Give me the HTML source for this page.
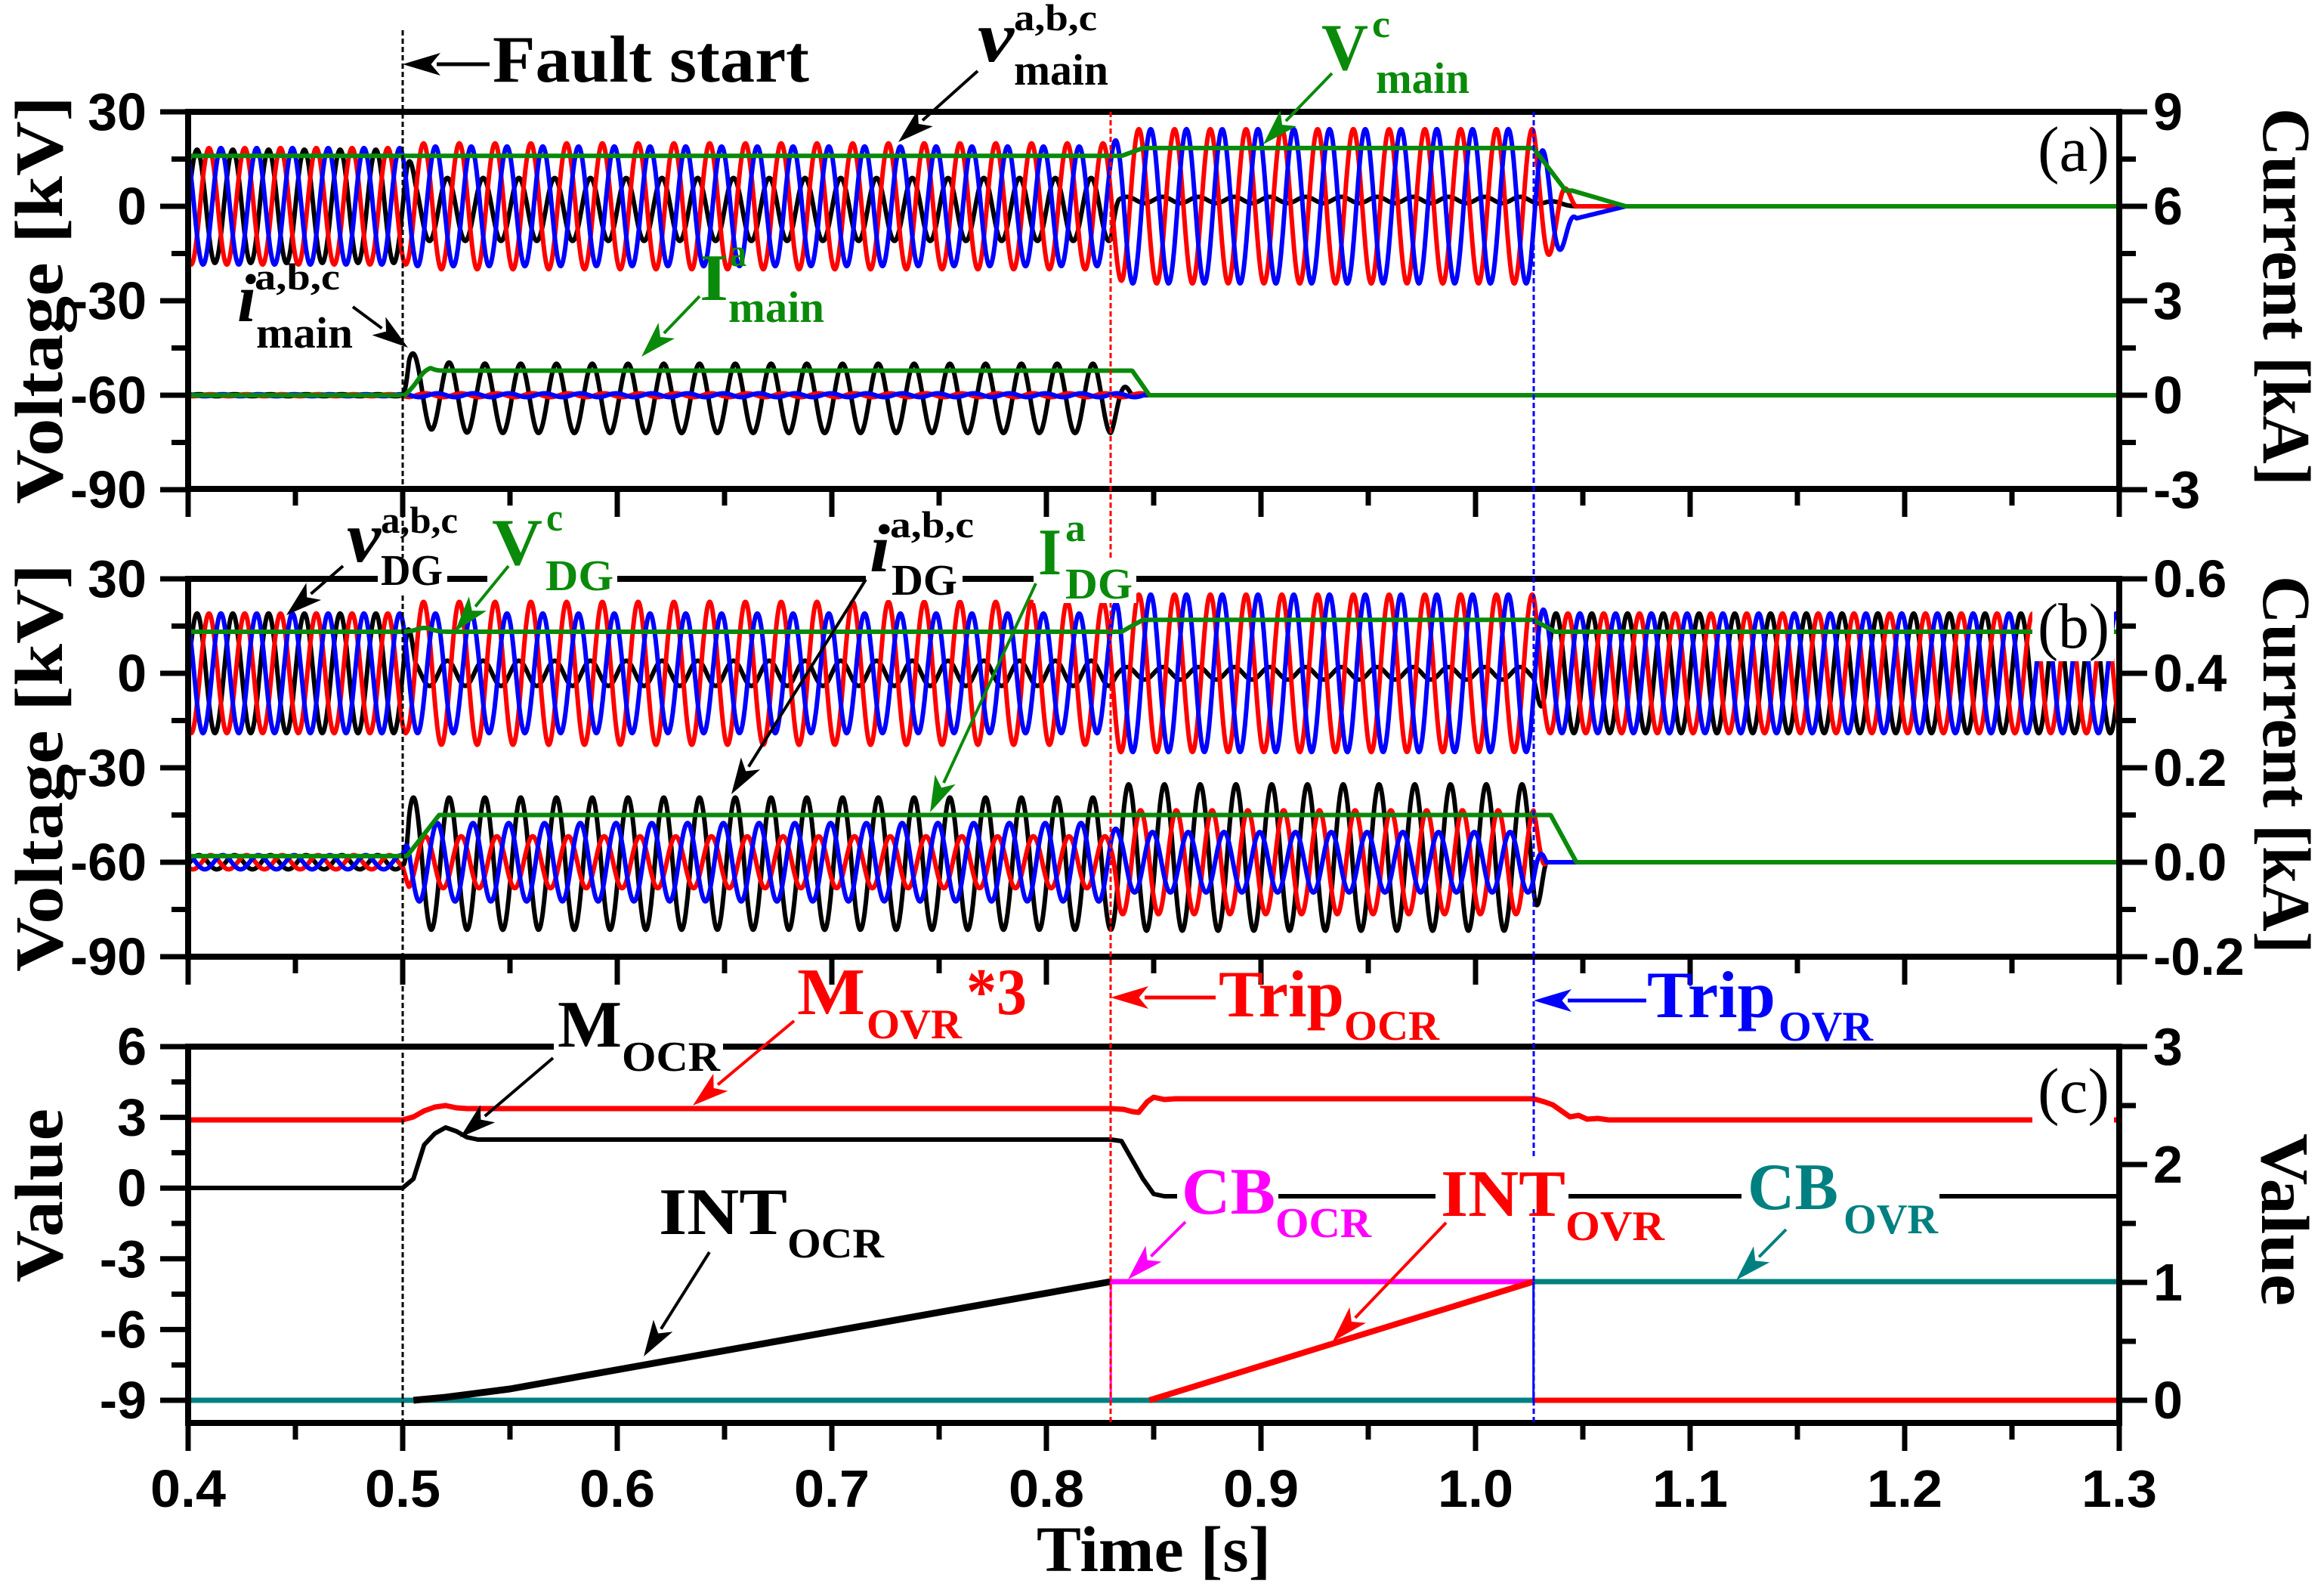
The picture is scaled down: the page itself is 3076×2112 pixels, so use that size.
<!DOCTYPE html>
<html><head><meta charset="utf-8"><style>
html,body{margin:0;padding:0;background:#fff;}
svg{display:block;}
.n{font-family:"Liberation Sans",Arial,sans-serif;font-weight:bold;font-size:70px;fill:#000;}
.s{font-family:"Liberation Serif","Times New Roman",serif;font-weight:bold;}
</style></head><body>
<svg id="c" xmlns="http://www.w3.org/2000/svg" width="3076" height="2112" viewBox="0 0 3076 2112">
<rect width="3076" height="2112" fill="#fff"/>
<g id="data"></g>
<g id="axes"></g>
<g id="over"></g>
<g id="labels" class="s">
<rect x="500" y="738" width="92" height="50" fill="#fff"/>
<rect x="645" y="738" width="172" height="50" fill="#fff"/>
<rect x="1146" y="738" width="128" height="56" fill="#fff"/>
<rect x="1368" y="738" width="136" height="60" fill="#fff"/>
<rect x="733" y="1376" width="224" height="46" fill="#fff"/>
<rect x="1558" y="1530" width="134" height="68" fill="#fff"/>
<rect x="1900" y="1530" width="176" height="68" fill="#fff"/>
<rect x="2305" y="1525" width="262" height="68" fill="#fff"/>
<rect x="2690" y="160" width="108" height="88" fill="#fff"/>
<rect x="2690" y="787" width="108" height="88" fill="#fff"/>
<rect x="2690" y="1400" width="108" height="88" fill="#fff"/>

<text x="652" y="108" font-size="88" textLength="419" lengthAdjust="spacingAndGlyphs">Fault start</text>
<text x="1294" y="81" font-size="95" font-style="italic" textLength="48" lengthAdjust="spacingAndGlyphs">v</text>
<text x="1342" y="40" font-size="50" textLength="110" lengthAdjust="spacingAndGlyphs">a,b,c</text>
<text x="1342" y="112" font-size="58" textLength="125" lengthAdjust="spacingAndGlyphs">main</text>
<g fill="#0a8a0a">
<text x="1749" y="92" font-size="88" textLength="62" lengthAdjust="spacingAndGlyphs">V</text>
<text x="1816" y="49" font-size="52" textLength="24" lengthAdjust="spacingAndGlyphs">c</text>
<text x="1821" y="123" font-size="58" textLength="124" lengthAdjust="spacingAndGlyphs">main</text>
</g>
<text x="314" y="425" font-size="90" font-style="italic" textLength="25" lengthAdjust="spacingAndGlyphs">i</text>
<text x="337" y="383" font-size="50" textLength="113" lengthAdjust="spacingAndGlyphs">a,b,c</text>
<text x="339" y="460" font-size="58" textLength="128" lengthAdjust="spacingAndGlyphs">main</text>
<g fill="#0a8a0a">
<text x="926" y="397" font-size="88" textLength="38" lengthAdjust="spacingAndGlyphs">I</text>
<text x="966" y="352" font-size="52" textLength="22" lengthAdjust="spacingAndGlyphs">a</text>
<text x="964" y="426" font-size="58" textLength="127" lengthAdjust="spacingAndGlyphs">main</text>
</g>
<text x="2697" y="226" font-size="85" font-weight="normal" textLength="95" lengthAdjust="spacingAndGlyphs">(a)</text>

<text x="459" y="743" font-size="95" font-style="italic" textLength="45" lengthAdjust="spacingAndGlyphs">v</text>
<text x="504" y="705" font-size="50" textLength="102" lengthAdjust="spacingAndGlyphs">a,b,c</text>
<text x="504" y="774" font-size="58" textLength="82" lengthAdjust="spacingAndGlyphs">DG</text>
<g fill="#0a8a0a">
<text x="651" y="747" font-size="88" textLength="67" lengthAdjust="spacingAndGlyphs">V</text>
<text x="723" y="702" font-size="52" textLength="22" lengthAdjust="spacingAndGlyphs">c</text>
<text x="722" y="781" font-size="58" textLength="90" lengthAdjust="spacingAndGlyphs">DG</text>
</g>
<text x="1151" y="756" font-size="90" font-style="italic" textLength="27" lengthAdjust="spacingAndGlyphs">i</text>
<text x="1178" y="711" font-size="50" textLength="111" lengthAdjust="spacingAndGlyphs">a,b,c</text>
<text x="1180" y="787" font-size="58" textLength="87" lengthAdjust="spacingAndGlyphs">DG</text>
<g fill="#0a8a0a">
<text x="1374" y="760" font-size="88" textLength="31" lengthAdjust="spacingAndGlyphs">I</text>
<text x="1410" y="716" font-size="52" textLength="27" lengthAdjust="spacingAndGlyphs">a</text>
<text x="1410" y="792" font-size="58" textLength="89" lengthAdjust="spacingAndGlyphs">DG</text>
</g>
<text x="2697" y="857" font-size="85" font-weight="normal" textLength="95" lengthAdjust="spacingAndGlyphs">(b)</text>

<text x="738" y="1385" font-size="88" textLength="85" lengthAdjust="spacingAndGlyphs">M</text>
<text x="823" y="1417" font-size="56" textLength="130" lengthAdjust="spacingAndGlyphs">OCR</text>
<g fill="#ff0000">
<text x="1055" y="1342" font-size="88" textLength="90" lengthAdjust="spacingAndGlyphs">M</text>
<text x="1147" y="1374" font-size="56" textLength="126" lengthAdjust="spacingAndGlyphs">OVR</text>
<text x="1279" y="1342" font-size="88" textLength="80" lengthAdjust="spacingAndGlyphs">*3</text>
<text x="1613" y="1345" font-size="88" textLength="166" lengthAdjust="spacingAndGlyphs">Trip</text>
<text x="1779" y="1376" font-size="56" textLength="126" lengthAdjust="spacingAndGlyphs">OCR</text>
<text x="1907" y="1609" font-size="88" textLength="165" lengthAdjust="spacingAndGlyphs">INT</text>
<text x="2072" y="1641" font-size="56" textLength="131" lengthAdjust="spacingAndGlyphs">OVR</text>
</g>
<g fill="#0000ff">
<text x="2180" y="1346" font-size="88" textLength="170" lengthAdjust="spacingAndGlyphs">Trip</text>
<text x="2354" y="1377" font-size="56" textLength="125" lengthAdjust="spacingAndGlyphs">OVR</text>
</g>
<text x="872" y="1633" font-size="88" textLength="170" lengthAdjust="spacingAndGlyphs">INT</text>
<text x="1042" y="1664" font-size="56" textLength="128" lengthAdjust="spacingAndGlyphs">OCR</text>
<g fill="#ff00ff">
<text x="1564" y="1606" font-size="88" textLength="124" lengthAdjust="spacingAndGlyphs">CB</text>
<text x="1688" y="1637" font-size="56" textLength="127" lengthAdjust="spacingAndGlyphs">OCR</text>
</g>
<g fill="#008080">
<text x="2313" y="1600" font-size="88" textLength="120" lengthAdjust="spacingAndGlyphs">CB</text>
<text x="2440" y="1632" font-size="56" textLength="125" lengthAdjust="spacingAndGlyphs">OVR</text>
</g>
<text x="2697" y="1472" font-size="85" font-weight="normal" textLength="95" lengthAdjust="spacingAndGlyphs">(c)</text>

<text transform="translate(82,397) rotate(-90)" font-size="90" text-anchor="middle" textLength="540" lengthAdjust="spacingAndGlyphs">Voltage [kV]</text>
<text transform="translate(82,1016) rotate(-90)" font-size="90" text-anchor="middle" textLength="540" lengthAdjust="spacingAndGlyphs">Voltage [kV]</text>
<text transform="translate(82,1582) rotate(-90)" font-size="90" text-anchor="middle" textLength="230" lengthAdjust="spacingAndGlyphs">Value</text>
<text transform="translate(2996,393) rotate(90)" font-size="90" text-anchor="middle" textLength="500" lengthAdjust="spacingAndGlyphs">Current [kA]</text>
<text transform="translate(2996,1012) rotate(90)" font-size="90" text-anchor="middle" textLength="500" lengthAdjust="spacingAndGlyphs">Current [kA]</text>
<text transform="translate(2994,1614) rotate(90)" font-size="90" text-anchor="middle" textLength="228" lengthAdjust="spacingAndGlyphs">Value</text>
<text x="1527" y="2079" font-size="86" text-anchor="middle" textLength="310" lengthAdjust="spacingAndGlyphs">Time [s]</text>
</g>
<g id="arrows"></g>
</svg>
<script>
(function(){
var NS="http://www.w3.org/2000/svg";
function el(p,n,a){var e=document.createElementNS(NS,n);for(var k in a)e.setAttribute(k,a[k]);p.appendChild(e);return e;}
var data=document.getElementById('data'),axes=document.getElementById('axes'),over=document.getElementById('over'),arr=document.getElementById('arrows');
function X(t){return 249+(t-0.4)*2840;}
var W=2*Math.PI*60, P=2*Math.PI/3;
function S(t,a,b){return t<=a?0:t>=b?1:(t-a)/(b-a);}
function pw(t,v,ts,rs){var y=v[0];for(var i=0;i<ts.length;i++)y+=(v[i+1]-v[i])*S(t,ts[i],ts[i]+rs[i]);return y;}
function series(f,Y,col,w,t0,t1){t0=t0||0.4;t1=t1||1.3;var d='';for(var t=t0;t<=t1+1e-9;t+=0.0003){d+=(d?'L':'M')+X(t).toFixed(1)+','+Y(f(t)).toFixed(1);}
el(data,'path',{d:d,fill:'none',stroke:col,'stroke-width':w,'stroke-linejoin':'round'});}
function poly(pts,Y,col,w){var d='';pts.forEach(function(p){d+=(d?'L':'M')+X(p[0]).toFixed(1)+','+p[1];});el(data,'path',{d:d,fill:'none',stroke:col,'stroke-width':w,'stroke-linejoin':'round'});}
var G='#0a8a0a',T1=0.502,T2=0.83,T3=1.027,LW=6;
var Yav=function(v){return 273-v*125/30;}, Yai=function(v){return 523-v*125/3;};
var ph=Math.PI/2-W*0.505;
series(function(t){return pw(t,[18,10,1,0],[T1,T2,T3],[.004,.004,.02])*Math.sin(W*t)+pw(t,[0,-1,2,0],[T1,T2,T3],[.004,.004,.02]);},Yav,'#000',LW);
series(function(t){return pw(t,[18.5,20,24.5,0],[T1,T2,T3],[.004,.006,.02])*Math.sin(W*t-P);},Yav,'#f00',LW);
series(function(t){return pw(t,[18.5,19,24.5,0],[T1,T2,T3],[.004,.006,.02])*Math.sin(W*t+P)-5*S(t,1.03,1.037)*(1-S(t,1.04,1.07));},Yav,'#00f',LW);
series(function(t){return pw(t,[16,16,18.5,5,0],[T1,0.835,T3,1.045],[.004,.01,.015,.025]);},Yav,G,6);
series(function(t){var s=t>0.5?0.6*Math.exp(-(t-0.5)/0.008)*S(t,0.5,0.503):0;return pw(t,[0.03,1.1,0],[0.5,T2],[0.003,0.01])*Math.sin(W*t+ph)+pw(t,[0,-0.1,0],[0.5,T2],[.003,.01])+s;},Yai,'#000',LW,0.4,1.3);
series(function(t){return pw(t,[0.03,0.06,0],[0.5,0.845],[0.003,0.003])*Math.sin(W*t+ph-P);},Yai,'#f00',LW);
series(function(t){return pw(t,[0.03,0.06,0],[0.5,0.845],[0.003,0.003])*Math.sin(W*t+ph+P);},Yai,'#00f',LW);
series(function(t){return pw(t,[0,0.78,0],[0.501,0.84],[0.012,0.008])+0.15*Math.exp(-Math.pow((t-0.51)/0.004,2));},Yai,G,6);
var Ybv=function(v){return 891-v*125/30;}, Ybi=function(v){return 1141-v*625;};
series(function(t){return pw(t,[19,4,2,19],[T1,T2,T3],[.004,.004,.006])*Math.sin(W*t);},Ybv,'#000',LW);
series(function(t){return pw(t,[19,22.7,25,19],[T1,T2,T3],[.004,.004,.006])*Math.sin(W*t-P);},Ybv,'#f00',LW);
series(function(t){return pw(t,[19,19,25,19],[T1,T2,T3],[.004,.004,.006])*Math.sin(W*t+P);},Ybv,'#00f',LW);
series(function(t){return pw(t,[13.2,13.2,17,13.2],[T1,0.835,T3],[.004,.01,.01])+1.2*Math.exp(-Math.pow((t-0.51)/0.005,2));},Ybv,G,6);
series(function(t){return pw(t,[0.015,0.14,0.155,0],[0.5,T2,T3],[.003,.004,.006])*Math.sin(W*t+ph)+pw(t,[0,-0.003,0.01,0],[0.5,T2,T3],[.003,.004,.006]);},Ybi,'#000',LW);
series(function(t){return pw(t,[0.015,0.055,0.11,0],[0.5,T2,T3],[.003,.004,.006])*Math.sin(W*t+ph-P);},Ybi,'#f00',LW);
series(function(t){return pw(t,[0.015,0.083,0.064,0],[0.5,T2,T3],[.003,.004,.006])*Math.sin(W*t+ph+P);},Ybi,'#00f',LW);
series(function(t){return pw(t,[0.013,0.1,0],[0.502,1.035],[0.015,0.012]);},Ybi,G,6);
poly([[0.4,1853],[1.027,1853]],null,'#008080',7);
poly([[1.027,1696],[1.3,1696]],null,'#008080',7);
poly([[0.4,1482],[0.5,1482],[0.505,1478],[0.51,1470],[0.515,1465],[0.52,1463],[0.525,1466],[0.53,1467],[0.83,1467],[0.836,1468],[0.84,1471],[0.843,1472],[0.847,1458],[0.85,1452],[0.855,1455],[0.86,1454],[1.027,1454],[1.032,1458],[1.036,1462],[1.04,1470],[1.044,1478],[1.048,1476],[1.052,1481],[1.057,1480],[1.062,1482],[1.3,1482]],null,'#f00',7);
poly([[0.4,1572],[0.5,1572],[0.505,1560],[0.51,1515],[0.515,1500],[0.52,1492],[0.525,1497],[0.53,1505],[0.535,1508],[0.83,1508],[0.835,1510],[0.838,1525],[0.842,1545],[0.845,1560],[0.85,1580],[0.855,1583],[1.3,1583]],null,'#000',6);
poly([[0.505,1853],[0.52,1849],[0.55,1838],[0.83,1696]],null,'#000',9);
poly([[0.83,1853],[0.83,1696]],null,'#ff00ff',3);
poly([[0.83,1696],[1.027,1696]],null,'#ff00ff',7);
poly([[0.848,1853],[1.027,1696]],null,'#f00',8);
poly([[1.027,1853],[1.3,1853]],null,'#f00',7);
poly([[1.027,1853],[1.027,1696]],null,'#00f',3);
el(over,'line',{x1:533,y1:40,x2:533,y2:1883,stroke:'#000','stroke-width':3,'stroke-dasharray':'7,4'});
el(over,'line',{x1:1470,y1:148,x2:1470,y2:1883,stroke:'#f00','stroke-width':3,'stroke-dasharray':'7,4'});
el(over,'line',{x1:2030,y1:148,x2:2030,y2:1883,stroke:'#00f','stroke-width':3,'stroke-dasharray':'7,4'});
var SW=8;
function frame(top,bot){el(axes,'rect',{x:249,y:top,width:2556,height:bot-top,fill:'none',stroke:'#000','stroke-width':SW});
for(var i=0;i<=18;i++){var x=249+i*142;var L=(i%2==0)?37:22;el(axes,'line',{x1:x,y1:bot,x2:x,y2:bot+L,stroke:'#000','stroke-width':7});}}
function yt(x,dir,ys,minors){ys.forEach(function(y){el(axes,'line',{x1:x,y1:y,x2:x+dir*37,y2:y,stroke:'#000','stroke-width':7});});
minors.forEach(function(y){el(axes,'line',{x1:x,y1:y,x2:x+dir*22,y2:y,stroke:'#000','stroke-width':7});});}
function txt(x,y,s,anchor){var e=el(axes,'text',{x:x,y:y,'text-anchor':anchor,'class':'n'});e.textContent=s;}
frame(148,647);frame(766,1266);frame(1385,1883);
yt(249,-1,[148,273,398,523,648],[210.5,335.5,460.5,585.5]);
['30','0','-30','-60','-90'].forEach(function(s,i){txt(194,148+i*125+24,s,'end');});
yt(2805,1,[148,273,398,523,648],[210.5,335.5,460.5,585.5]);
['9','6','3','0','-3'].forEach(function(s,i){txt(2850,148+i*125+24,s,'start');});
yt(249,-1,[766,891,1016,1141,1266],[828.5,953.5,1078.5,1203.5]);
['30','0','-30','-60','-90'].forEach(function(s,i){txt(194,766+i*125+24,s,'end');});
yt(2805,1,[766,891,1016,1141,1266],[828.5,953.5,1078.5,1203.5]);
['0.6','0.4','0.2','0.0','-0.2'].forEach(function(s,i){txt(2850,766+i*125+24,s,'start');});
var cl=[1385,1478.6,1572.2,1665.8,1759.4,1853];
yt(249,-1,cl,[1431.8,1525.4,1619,1712.6,1806.2]);
['6','3','0','-3','-6','-9'].forEach(function(s,i){txt(194,cl[i]+24,s,'end');});
var cr=[1385,1541,1697,1853];
yt(2805,1,cr,[1463,1619,1775]);
['3','2','1','0'].forEach(function(s,i){txt(2850,cr[i]+24,s,'start');});
['0.4','0.5','0.6','0.7','0.8','0.9','1.0','1.1','1.2','1.3'].forEach(function(s,i){var e=el(axes,'text',{x:249+i*284,y:1994,'text-anchor':'middle','class':'n','font-size':'72',textLength:'100',lengthAdjust:'spacingAndGlyphs'});e.textContent=s;});
function arrow(x1,y1,x2,y2,col,w,hl,hw){var dx=x2-x1,dy=y2-y1,L=Math.sqrt(dx*dx+dy*dy),ux=dx/L,uy=dy/L;hl=hl||48;hw=hw||15;
var bx=x2-ux*hl,by=y2-uy*hl;el(arr,'line',{x1:x1,y1:y1,x2:bx+ux*5,y2:by+uy*5,stroke:col,'stroke-width':w||4});
el(arr,'polygon',{points:x2+','+y2+' '+(bx-uy*hw)+','+(by+ux*hw)+' '+(x2-ux*hl*0.75)+','+(y2-uy*hl*0.75)+' '+(bx+uy*hw)+','+(by-ux*hw),fill:col});}
arrow(648,85,533,85,'#000',5,50,15);
arrow(1294,94,1189,188,'#000',4);
arrow(1763,97,1672,191,G,4);
arrow(467,406,540,460,'#000',4);
arrow(926,392,849,472,G,4);
arrow(454,749,379,814,'#000',4);
arrow(673,749,602,836,G,4);
arrow(1146,767,968,1051,'#000',4);
arrow(1371,772,1231,1075,G,4);
arrow(732,1400,609,1505,'#000',4);
arrow(1051,1351,917,1463,'#f00',4);
arrow(1609,1320,1470,1320,'#f00',5,50,15);
arrow(2179,1324,2030,1324,'#00f',5,50,15);
arrow(939,1657,852,1795,'#000',4);
arrow(1569,1617,1493,1693,'#ff00ff',4);
arrow(1914,1618,1764,1775,'#f00',4);
arrow(2364,1627,2298,1694,'#008080',4);
})();
</script>
</body></html>
